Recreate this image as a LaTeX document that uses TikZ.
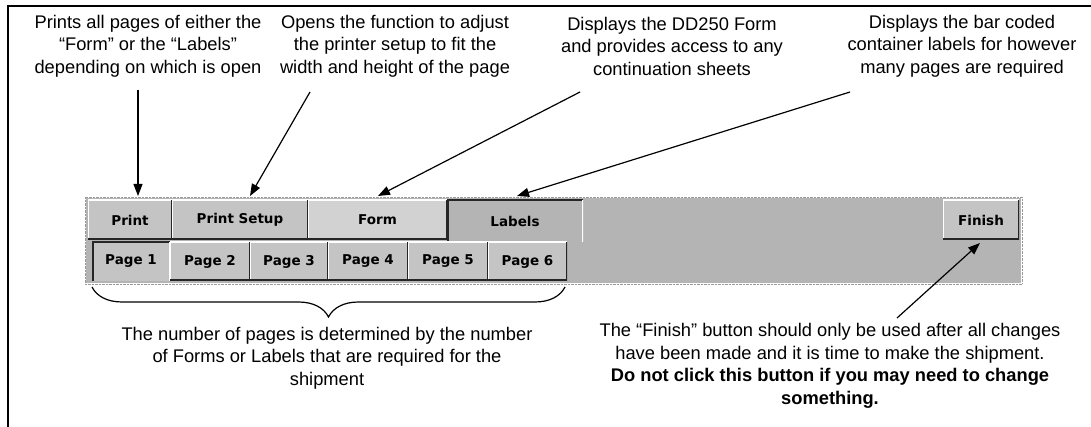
\documentclass[tikz,border=0pt]{standalone}
\usepackage{fontspec}
\setmainfont{Liberation Sans}
\newfontfamily\btnfont{DejaVu Sans}
\usetikzlibrary{arrows.meta,decorations.pathreplacing}
\definecolor{bargray}{HTML}{B4B4B4}
\definecolor{btngray}{HTML}{C4C4C4}
\definecolor{formgray}{HTML}{D2D2D2}
\definecolor{dotgray}{HTML}{9A9A9A}
\tikzset{
  note/.style={align=center, inner sep=0pt, font=\fontsize{18.3}{22.5}\selectfont},
  btn/.style={fill=btngray, inner sep=0pt, font=\btnfont\bfseries\fontsize{13.5}{14}\selectfont,
    path picture={
      \draw[white, line width=2pt] (path picture bounding box.south west) -- (path picture bounding box.north west) -- (path picture bounding box.north east);
      \draw[black!85, line width=3pt] (path picture bounding box.north east) -- (path picture bounding box.south east) -- (path picture bounding box.south west);
    }},
  selbtn/.style={fill=bargray, inner sep=0pt, font=\btnfont\bfseries\fontsize{13.5}{14}\selectfont,
    path picture={
      \draw[black!85, line width=3pt] (path picture bounding box.south west) -- (path picture bounding box.north west) -- (path picture bounding box.north east);
      \draw[white, line width=1.5pt] (path picture bounding box.north east) -- (path picture bounding box.south east);
    }},
  pointer/.style={line width=1.2pt, -{Triangle[length=12pt,width=9pt]}},
  frameline/.style={line width=1.6pt}
}
\begin{document}
\begin{tikzpicture}[x=1pt,y=-1pt]
\useasboundingbox (0,0) rectangle (1091,427);
% outer frame
\draw[frameline] (8,440) -- (8,6) -- (1100,6);

% toolbar background
\fill[bargray] (86,198) rectangle (1021,283);
\draw[dotgray, densely dotted] (85,197) rectangle (1022,284);

% row 1 buttons
\node[btn, minimum width=84pt, minimum height=40pt] (print) at (130,220) {Print};
\node[btn, minimum width=136pt, minimum height=40pt] (psetup) at (240,220) {Print Setup};
\node[btn, fill=formgray, minimum width=139pt, minimum height=40pt] (form) at (377.5,220) {Form};
\node[selbtn, minimum width=136pt, minimum height=42pt] (labels) at (515,221) {Labels};
\node[btn, minimum width=76pt, minimum height=40pt] (finish) at (981,220) {Finish};

% row 2 page tabs
\node[selbtn, fill=btngray, minimum width=78pt, minimum height=39pt] (p1) at (131,261.5) {Page 1};
\node[btn, minimum width=80pt, minimum height=39pt] (p2) at (210,261.5) {Page 2};
\node[btn, minimum width=78pt, minimum height=39pt] (p3) at (289,261.5) {Page 3};
\node[btn, minimum width=80pt, minimum height=39pt] (p4) at (368,261.5) {Page 4};
\node[btn, minimum width=80pt, minimum height=39pt] (p5) at (448,261.5) {Page 5};
\node[btn, minimum width=79pt, minimum height=39pt] (p6) at (527.5,261.5) {Page 6};

% top notes
\node[note] (n1) at (148,46) {Prints all pages of either the\\“Form” or the “Labels”\\depending on which is open};
\node[note] (n2) at (395,46) {Opens the function to adjust\\the printer setup to fit the\\width and height of the page};
\node[note] (n3) at (672,46) {Displays the DD250 Form\\and provides access to any\\continuation sheets};
\node[note] (n4) at (962,46) {Displays the bar coded\\container labels for however\\many pages are required};

% bottom notes
\node[note] (n5) at (327,358) {The number of pages is determined by the number\\of Forms or Labels that are required for the\\shipment};
\node[note] (n6) at (830,366) {The “Finish” button should only be used after all changes\\have been made and it is time to make the shipment.\\\textbf{Do not click this button if you may need to change}\\\textbf{something.}};

% arrow tails and tips
\coordinate (t1) at (138,90);
\coordinate (t2) at (310,92);
\coordinate (t3) at (580,92);
\coordinate (t4) at (850,92);
\coordinate (t5) at (897,318);
\coordinate (h1) at (138,196);
\coordinate (h2) at (250,196);
\coordinate (h3) at (378,196);
\coordinate (h4) at (517,196);
\coordinate (h5) at (980,243);

\draw[pointer] (t1) -- (h1);
\draw[pointer] (t2) -- (h2);
\draw[pointer] (t3) -- (h3);
\draw[pointer] (t4) -- (h4);
\draw[pointer] (t5) -- (h5);

% brace under page tabs
\coordinate (bl) at (92,287);
\coordinate (br) at (565,287);
\draw[line width=1.2pt, decorate, decoration={brace, mirror, amplitude=30pt}] (bl) -- (br);
\end{tikzpicture}
\end{document}
